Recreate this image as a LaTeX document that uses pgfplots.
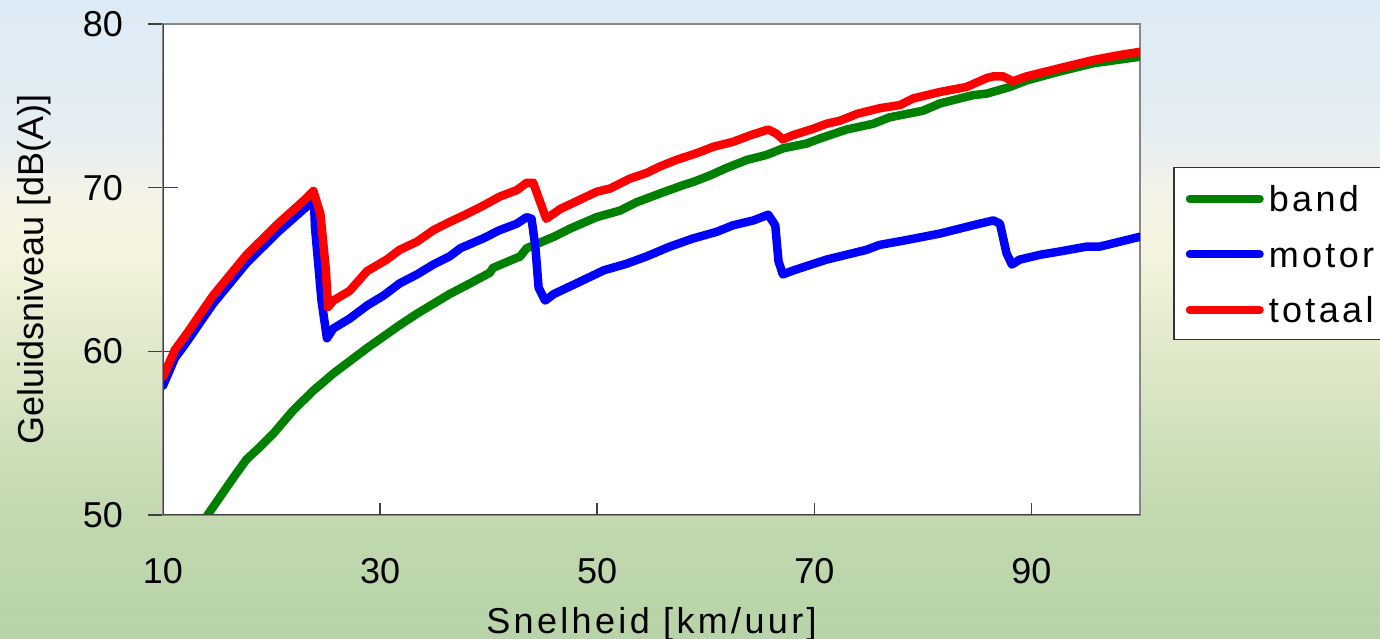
\documentclass[border=0pt]{standalone}
\usepackage{pgfplots}
\pgfplotsset{compat=1.18}
\usepackage{fontspec}
\setmainfont{Liberation Sans}
\newfontfamily\spaced[LetterSpace=9.3]{Liberation Sans}
\definecolor{cB0}{HTML}{B7D3A7}
\definecolor{cB1}{HTML}{C4DAB2}
\definecolor{cB2}{HTML}{D6E4C2}
\definecolor{cB3}{HTML}{E6ECD0}
\definecolor{cB4}{HTML}{F6F4DF}
\definecolor{cB5}{HTML}{F5F3E6}
\definecolor{cB6}{HTML}{E4EEF2}
\definecolor{cB7}{HTML}{DDEBF6}
\definecolor{cgreen}{HTML}{008000}
\definecolor{cblue}{HTML}{0000FF}
\definecolor{cred}{HTML}{FF0000}
\begin{document}
\begin{tikzpicture}
\useasboundingbox (0pt,0pt) rectangle (1380pt,639pt);
\clip (0pt,0pt) rectangle (1380pt,639pt);
\shade[bottom color=cB0, top color=cB1] (0pt,0pt) rectangle (1380pt,139pt);
\shade[bottom color=cB1, top color=cB2] (0pt,139pt) rectangle (1380pt,239pt);
\shade[bottom color=cB2, top color=cB3] (0pt,239pt) rectangle (1380pt,319pt);
\shade[bottom color=cB3, top color=cB4] (0pt,319pt) rectangle (1380pt,389pt);
\shade[bottom color=cB4, top color=cB5] (0pt,389pt) rectangle (1380pt,439pt);
\shade[bottom color=cB5, top color=cB6] (0pt,439pt) rectangle (1380pt,509pt);
\shade[bottom color=cB6, top color=cB7] (0pt,509pt) rectangle (1380pt,639pt);
\begin{axis}[
  at={(163pt,124pt)}, anchor=south west,
  scale only axis, width=977pt, height=491pt,
  xmin=10, xmax=100, ymin=50, ymax=80,
  xtick={10,30,50,70,90}, ytick={50,60,70,80},
  minor tick num=0,
  tick align=inside,
  xtick pos=bottom, ytick pos=left,
  major tick length=12pt,
  xtick style={draw=black!75, line width=1.5pt},
  ytick style={draw=black!75, line width=1.5pt, /pgfplots/major tick length=30pt, xshift=-15pt},
  axis line style={draw=black!47, line width=2.5pt},
  axis background/.style={fill=white},
  /pgf/number format/assume math mode=true,
  tick label style={font=\fontsize{36}{43}\selectfont, text=black},
  xticklabel style={inner sep=0pt, yshift=-43pt},
  yticklabel style={inner sep=0pt, xshift=-40pt},
  xlabel={Snelheid [km/uur]},
  xlabel style={at={(axis description cs:0.5,-0.24033)}, anchor=base, inner sep=0pt, font=\spaced\fontsize{36}{43}\selectfont},
  ylabel={Geluidsniveau [dB(A)]},
  ylabel style={at={(axis description cs:-0.12282,0.5)}, anchor=base, inner sep=0pt, font=\fontsize{36}{43}\selectfont},
  legend style={at={(axis description cs:1.0338,0.7088)}, anchor=north west, draw=black!80, line width=1.5pt, fill=white, inner xsep=12pt, inner ysep=17pt, row sep=28.5pt, column sep=5pt, nodes={inner sep=0pt, text height=27pt, text depth=0pt, text width=125pt, align=left, anchor=base west, font=\spaced\fontsize{36}{43}\selectfont}},
  legend image code/.code={\path[draw=none, fill=none] (0pt,0pt) rectangle (78pt,26pt); \draw[#1, line width=8pt, line cap=round] (4pt,13pt) -- (74pt,13pt);},
  legend cell align=left,
]
\addplot[color=cgreen, line width=8.5pt, line join=round, line cap=round] coordinates {
(13.2,49.2) (14.0,49.9) (15.25,51.1) (16.5,52.3) (17.7,53.4) (19.0,54.2) (20.2,55.0) (22.0,56.4) (23.85,57.6) (25.7,58.65) (27.2,59.4) (28.8,60.2) (30.3,60.9) (31.8,61.6) (33.4,62.3) (34.9,62.9) (36.4,63.5) (38.0,64.05) (40.1,64.8) (40.4,65.1) (42.9,65.8) (43.5,66.3) (46.0,67.0) (47.5,67.5) (49.95,68.2) (52.1,68.6) (53.6,69.1) (55.8,69.65) (57.9,70.15) (58.85,70.35) (60.4,70.75) (61.9,71.2) (63.8,71.7) (65.6,72.0) (67.1,72.4) (69.3,72.7) (70.5,73.0) (72.95,73.55) (75.4,73.9) (76.95,74.3) (80.0,74.7) (81.6,75.15) (84.6,75.65) (85.9,75.75) (88.0,76.15) (89.55,76.55) (92.6,77.1) (95.7,77.6) (100,78.0)
};
\addlegendentry{band}
\addplot[color=cblue, line width=8.5pt, line join=round, line cap=round] coordinates {
(10,57.9) (11.1,59.6) (12.0,60.4) (14.6,62.9) (17.7,65.4) (20.6,67.3) (23.5,69.0) (23.9,69.2) (24.0,67.6) (24.6,63.1) (25.1,60.8) (25.7,61.4) (27.2,62.0) (28.8,62.8) (30.3,63.4) (31.8,64.15) (33.4,64.7) (34.9,65.3) (36.4,65.8) (37.4,66.3) (39.5,66.9) (41.0,67.4) (42.6,67.8) (43.5,68.2) (43.95,68.1) (44.3,66.4) (44.6,63.9) (45.2,63.1) (46.0,63.5) (48.4,64.25) (50.6,64.95) (52.7,65.35) (54.55,65.8) (56.7,66.4) (58.85,66.9) (61.0,67.3) (62.5,67.7) (64.4,68.0) (65.75,68.35) (66.4,67.7) (66.7,65.5) (67.1,64.7) (68.1,64.95) (71.1,65.6) (74.8,66.2) (76.0,66.5) (78.5,66.8) (81.6,67.2) (84.6,67.7) (86.5,68.0) (87.1,67.8) (87.7,66.0) (88.2,65.3) (88.9,65.6) (90.8,65.9) (92.6,66.1) (95.1,66.4) (96.3,66.4) (100,67.0)
};
\addlegendentry{motor}
\addplot[color=cred, line width=8.5pt, line join=round, line cap=round] coordinates {
(10,58.45) (11.1,60.1) (12.0,60.9) (14.6,63.4) (17.7,65.9) (20.6,67.8) (23.2,69.35) (23.85,69.8) (24.5,68.4) (25.0,65.0) (25.2,62.7) (25.7,63.1) (27.2,63.7) (28.8,64.9) (30.6,65.6) (31.8,66.2) (33.4,66.7) (34.9,67.4) (36.4,67.9) (38.0,68.4) (39.5,68.9) (41.0,69.45) (42.6,69.85) (43.5,70.3) (44.1,70.3) (45.3,68.1) (46.6,68.7) (49.0,69.45) (49.95,69.75) (51.2,69.95) (53.0,70.55) (54.55,70.9) (55.8,71.3) (57.3,71.7) (59.15,72.1) (60.7,72.5) (62.5,72.8) (64.1,73.2) (65.75,73.55) (66.5,73.3) (67.1,72.95) (68.0,73.2) (69.9,73.6) (71.1,73.9) (72.4,74.1) (73.9,74.5) (76.0,74.85) (77.9,75.05) (79.1,75.45) (81.6,75.85) (84.0,76.15) (85.9,76.7) (86.5,76.8) (87.4,76.8) (88.3,76.5) (89.55,76.8) (92.6,77.3) (95.7,77.8) (98.1,78.1) (100,78.3)
};
\addlegendentry{totaal}
\draw[black!75, line width=2pt] (rel axis cs:0,1) -- (rel axis cs:0,0) -- (rel axis cs:1,0);
\end{axis}
\end{tikzpicture}
\end{document}
